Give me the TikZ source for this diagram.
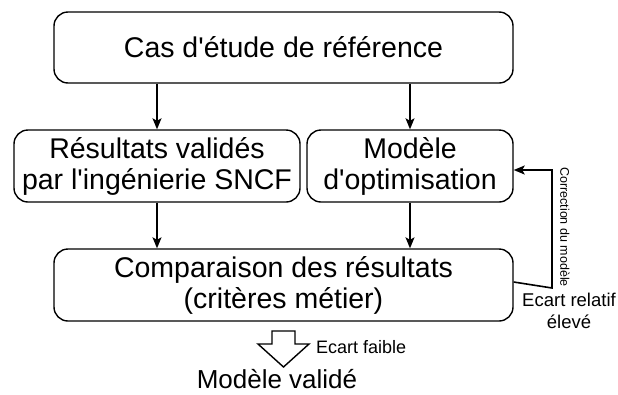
\documentclass[tikz,border=0pt]{standalone}
\usepackage{fontspec}
\setmainfont{Liberation Sans}[Ligatures=TeXOff]
\usetikzlibrary{arrows.meta}
\begin{document}
\begin{tikzpicture}[x=1pt,y=-1pt,
  box/.style={draw,line width=1.4pt,rounded corners=14pt,align=center,inner sep=0pt,
    font=\fontsize{28.5}{31}\selectfont},
  conn/.style={line width=1.2pt,-{Stealth[length=11pt,width=9pt,inset=2.5pt]}},
  small/.style={font=\fontsize{12.5}{14}\selectfont,inner sep=0pt},
  mid/.style={font=\fontsize{18.5}{22}\selectfont,inner sep=0pt,align=center}]
\useasboundingbox (0,0) rectangle (618,394);
\node[box,minimum width=459pt,minimum height=71pt] (top) at (283.5,47.5) {Cas d'étude de référence};
\node[box,minimum width=286pt,minimum height=72pt] (res) at (157,166) {Résultats validés\\par l'ingénierie SNCF};
\node[box,minimum width=206pt,minimum height=72pt] (mod) at (410,166) {Modèle\\d'optimisation};
\node[box,minimum width=459pt,minimum height=72pt] (cmp) at (283.5,285) {Comparaison des résultats\\(critères métier)};
\draw[conn] (top.south -| res) -- (res.north);
\draw[conn] (top.south -| mod) -- (mod.north);
\draw[conn] (res.south) -- (cmp.north -| res);
\draw[conn] (mod.south) -- (cmp.north -| mod);
\coordinate (fb) at (552,288);
\draw[conn,line width=1.6pt] ([yshift=3pt]cmp.east) -- (fb) |- ([yshift=-4pt]mod.east);
\node[small,rotate=-90] (corr) at (565,227) {Correction du modèle};
\node[mid] (ecr) at (569,311) {Ecart relatif\\élevé};
% hollow block arrow
\draw[line width=1.4pt,line join=miter] (272,331) -- (295,331) -- (295,344) -- (309,344) -- (283.5,367) -- (258,344) -- (272,344) -- cycle;
\node[font=\fontsize{18}{20}\selectfont,inner sep=0pt,anchor=west] (ecf) at (316,347) {Ecart faible};
\node[font=\fontsize{26}{28}\selectfont,inner sep=0pt] (val) at (277,379) {Modèle validé};
\end{tikzpicture}
\end{document}
